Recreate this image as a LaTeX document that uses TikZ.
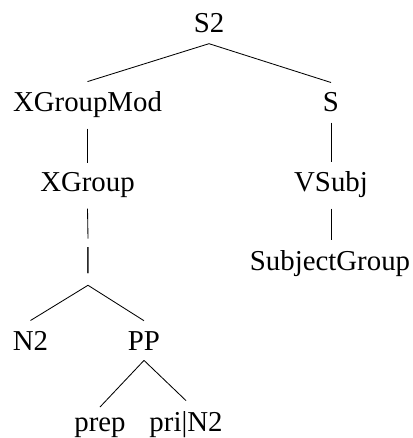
\documentclass[tikz,border=0pt]{standalone}
\usepackage{fontspec}
\setmainfont{Liberation Serif}
\usepackage{tikz}

\tikzset{
  cat/.style={anchor=base,inner sep=7.2pt},
  branch/.style={line width=0.6pt}
}

\begin{document}
\begin{tikzpicture}[x=0.025cm,y=-0.025cm,font=\fontsize{20.5}{24}\selectfont]
  \useasboundingbox (0,0) rectangle (412,438);
  % nodes of the tree
  \node[cat] (s2)    at (209,33)  {S2};
  \node[cat] (xgm)   at (87.5,112) {XGroupMod};
  \node[cat] (s)     at (331,112) {S};
  \node[cat] (xg)    at (87.5,192) {XGroup};
  \node[cat] (vsubj) at (331,192) {VSubj};
  \node[cat,text height=12.7pt,text depth=5.6pt] (bar) at (88,267) {|};
  \node[cat] (sg)    at (330,270) {SubjectGroup};
  \node[cat] (n2)    at (30.5,350) {N2};
  \node[cat] (pp)    at (144,350) {PP};
  \node[cat] (prep)  at (100,431) {prep};
  \node[cat] (prin2) at (186,431) {pri|N2};
  % branches
  \draw[branch] (s2.south) -- (xgm.north);
  \draw[branch] (s2.south) -- (s.north);
  \draw[branch] (xgm.south) -- (xg.north);
  \draw[branch] (xg.south) -- (bar.north);
  \draw[branch] (s.south) -- (vsubj.north);
  \draw[branch] (vsubj.south) -- (vsubj.south |- sg.north);
  \draw[branch] (bar.south) -- (n2.north);
  \draw[branch] (bar.south) -- (pp.north);
  \draw[branch] (pp.south) -- (prep.north);
  \draw[branch] (pp.south) -- (prin2.north);
\end{tikzpicture}
\end{document}
